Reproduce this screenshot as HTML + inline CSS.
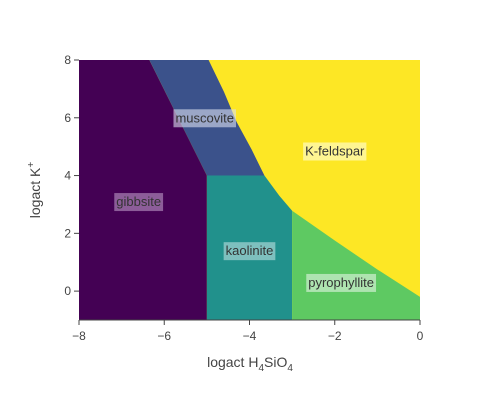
<!DOCTYPE html>
<html><head><meta charset="utf-8"><style>
body{margin:0;background:#fff;}
svg text{font-family:"Liberation Sans",sans-serif;}
</style></head><body>
<svg id="c" width="500" height="400"></svg>
<script>
const xTicks=[-8,-6,-4,-2,0];
const yTicks=[0,2,4,6,8];
const fields=["gibbsite","muscovite","kaolinite","pyrophyllite","K-feldspar"];
const fieldColors=["#440154","#3b528b","#21918c","#5ec962","#fde725"];
// boundaries (x = logact H4SiO4, y = logact K+)
const gibMusX=[-6.35,-5.0], gibMusY=[8,4];
const musKfX=[-4.96,-4.6,-4.3,-3.95,-3.65], musKfY=[8,6.9,5.85,4.9,4];
const kaoKfX=[-3.65,-3.3,-3.0], kaoKfY=[4,3.3,2.78];
const pyrKfX=[-3.0,-2.0,-1.0,0], pyrKfY=[2.78,1.75,0.75,-0.2];
const gibKaoX=-5.0, kaoPyrX=-3.0;
const labelNames=["gibbsite","muscovite","kaolinite","pyrophyllite","K-feldspar"];
const labelX=[-6.6,-5.05,-4.0,-1.85,-2.0];
const labelY=[3.1,6.0,1.4,0.3,4.85];
const labelBg=["rgba(200,170,210,0.55)","rgba(220,225,240,0.6)","rgba(220,240,240,0.5)","rgba(240,250,240,0.55)","rgba(255,255,220,0.6)"];

const L=79,R=420,T=60,B=320,xmin=-8,xmax=0,ymin=-1,ymax=8;
const sx=v=>L+(v-xmin)/(xmax-xmin)*(R-L);
const sy=v=>B-(v-ymin)/(ymax-ymin)*(B-T);
const svg=document.getElementById('c');
const NS="http://www.w3.org/2000/svg";
function mk(t,a,p){const e=document.createElementNS(NS,t);for(const k in a)e.setAttribute(k,a[k]);(p||svg).appendChild(e);return e;}
function pts(xs,ys){return xs.map((x,i)=>sx(x)+","+sy(ys[i]));}
function poly(list,i){const e=mk('polygon',{points:list.join(' '),fill:fieldColors[i]});

}
poly([sx(xmin)+","+sy(ymax),sx(xmax)+","+sy(ymax),sx(xmax)+","+sy(ymin),sx(xmin)+","+sy(ymin)],4);
poly([sx(xmin)+","+sy(ymax),...pts(gibMusX,gibMusY),sx(gibKaoX)+","+sy(ymin),sx(xmin)+","+sy(ymin)],0);
poly([...pts(gibMusX,gibMusY),...pts(musKfX,musKfY).reverse()],1);
poly([sx(gibKaoX)+","+sy(4),...pts(kaoKfX,kaoKfY),sx(kaoPyrX)+","+sy(ymin),sx(gibKaoX)+","+sy(ymin)],2);
poly([...pts(pyrKfX,pyrKfY),sx(xmax)+","+sy(ymin),sx(kaoPyrX)+","+sy(ymin)],3);
const ax=mk('line',{x1:L,y1:B,x2:R,y2:B,stroke:'#444','stroke-width':1});

xTicks.forEach(v=>{mk('line',{x1:sx(v),y1:B,x2:sx(v),y2:B+5,stroke:'#444'});
const t=mk('text',{x:sx(v),y:B+20,'text-anchor':'middle','font-size':12,fill:'#444'});t.textContent=String(v).replace('-','\u2212');
});
yTicks.forEach(v=>{mk('line',{x1:L-5,y1:sy(v),x2:L,y2:sy(v),stroke:'#444'});
const t=mk('text',{x:L-8,y:sy(v)+4,'text-anchor':'end','font-size':12,fill:'#444'});t.textContent=v;
});
labelNames.forEach((n,i)=>{const g=mk('g',{});

const t=mk('text',{x:sx(labelX[i]),y:sy(labelY[i])+4.5,'text-anchor':'middle','font-size':13,fill:'#333'},g);t.textContent=n;
const w=t.getComputedTextLength();
const r=mk('rect',{x:sx(labelX[i])-w/2-2,y:sy(labelY[i])-8.5,width:w+4,height:18,fill:labelBg[i]});g.insertBefore(r,t);});
</script>
<svg style="position:absolute;left:0;top:0" width="500" height="400">
<text x="250" y="367" text-anchor="middle" font-size="14" fill="#444">logact H<tspan font-size="10" dy="4">4</tspan><tspan dy="-4">SiO</tspan><tspan font-size="10" dy="4">4</tspan></text>
<text transform="translate(40,190) rotate(-90)" text-anchor="middle" font-size="14" fill="#444">logact K<tspan font-size="10" dy="-6">+</tspan></text>
</svg>
</body></html>
